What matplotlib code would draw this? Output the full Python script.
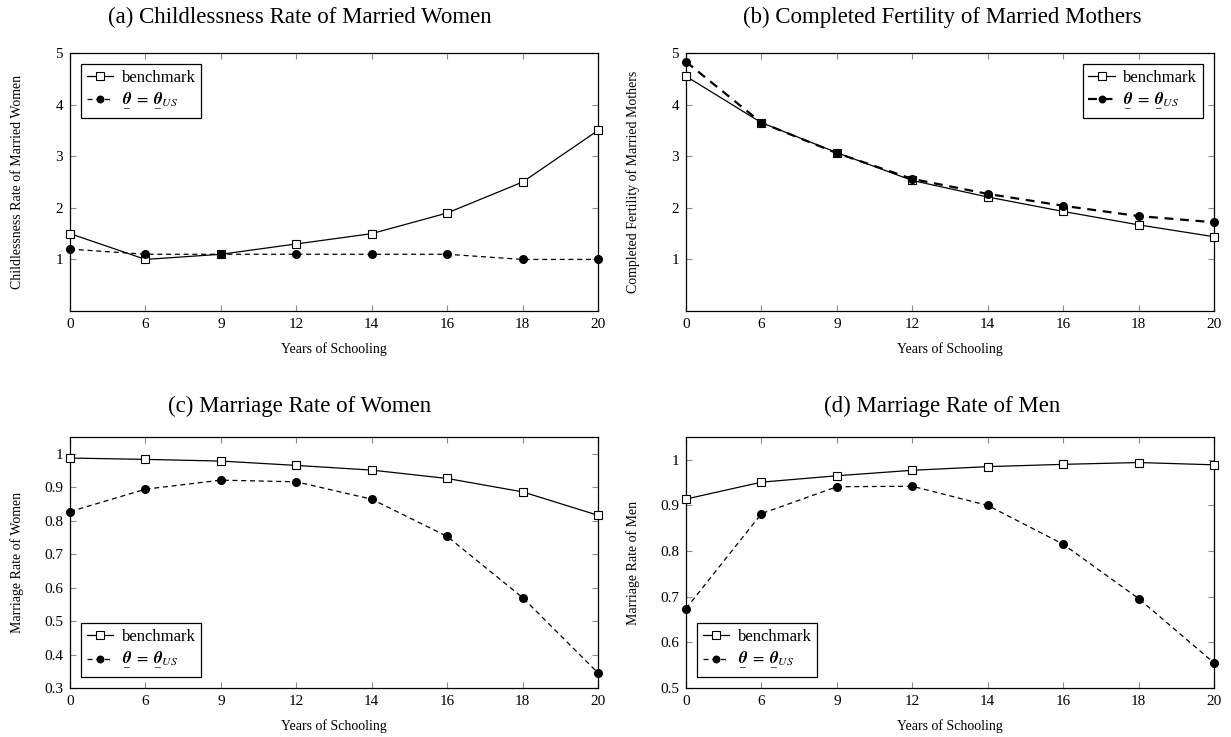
import matplotlib
matplotlib.use("Agg")
import matplotlib.pyplot as plt
from matplotlib.mathtext import MathTextParser

plt.rcParams['font.family'] = ['Liberation Serif', 'DejaVu Serif']
plt.rcParams['mathtext.fontset'] = 'stix'

# years of schooling (equally spaced categories)
years = ['0', '6', '9', '12', '14', '16', '18', '20']

# (a) childlessness rate of married women
child_bench = [1.5, 1.0, 1.1, 1.3, 1.5, 1.9, 2.5, 3.5]
child_us = [1.2, 1.1, 1.1, 1.1, 1.1, 1.1, 1.0, 1.0]

# (b) completed fertility of married mothers
fert_bench = [4.55, 3.65, 3.07, 2.53, 2.21, 1.93, 1.67, 1.44]
fert_us = [4.83, 3.65, 3.06, 2.56, 2.27, 2.04, 1.84, 1.72]

# (c) marriage rate of women
mw_bench = [0.987, 0.983, 0.978, 0.965, 0.951, 0.926, 0.886, 0.816]
mw_us = [0.827, 0.894, 0.921, 0.916, 0.864, 0.753, 0.570, 0.345]

# (d) marriage rate of men
mm_bench = [0.914, 0.951, 0.965, 0.977, 0.985, 0.990, 0.994, 0.989]
mm_us = [0.674, 0.882, 0.941, 0.942, 0.900, 0.815, 0.696, 0.555]

candidates = [
    r'$\underline{\mathbfit{\theta}}\;=\;\underline{\mathbfit{\theta}}_{US}$',
    r'$\underset{\_}{\mathbfit{\theta}}\;=\;\underset{\_}{\mathbfit{\theta}}_{US}$',
    r'$\mathbfit{\theta}\;=\;\mathbfit{\theta}_{US}$',
]
us_label = candidates[-1]
for c in candidates:
    try:
        MathTextParser('agg').parse(c, dpi=100)
        us_label = c
        break
    except Exception:
        pass

fig = plt.figure(figsize=(12.31, 7.37), dpi=100)

panels = [
    ([0.0569, 0.578, 0.4289, 0.350], '(a) Childlessness Rate of Married Women',
     'Childlessness Rate of Married Women', child_bench, child_us,
     (0, 5), [1, 2, 3, 4, 5], 'upper left', 0.9, (300, 17)),
    ([0.5573, 0.578, 0.4289, 0.350], '(b) Completed Fertility of Married Mothers',
     'Completed Fertility of Married Mothers', fert_bench, fert_us,
     (0, 5), [1, 2, 3, 4, 5], 'upper right', 1.6, (942, 17)),
    ([0.0569, 0.0665, 0.4289, 0.3406], '(c) Marriage Rate of Women',
     'Marriage Rate of Women', mw_bench, mw_us,
     (0.3, 1.05), [0.3, 0.4, 0.5, 0.6, 0.7, 0.8, 0.9, 1], 'lower left', 0.9, (300, 406)),
    ([0.5573, 0.0665, 0.4289, 0.3406], '(d) Marriage Rate of Men',
     'Marriage Rate of Men', mm_bench, mm_us,
     (0.5, 1.05), [0.5, 0.6, 0.7, 0.8, 0.9, 1], 'lower left', 0.9, (942, 406)),
]

x = list(range(len(years)))
for pos, title, ylab, bench, us, ylim, yt, loc, us_lw, tpos in panels:
    ax = fig.add_axes(pos)
    ax.plot(x, bench, color='black', lw=0.9, marker='s', ms=6,
            mfc='white', mec='black', mew=0.8, label='benchmark', clip_on=False, zorder=3)
    ax.plot(x, us, color='black', lw=us_lw, ls=(0, (4, 3)), marker='o', ms=5.5,
            mfc='black', mec='black', label=us_label, clip_on=False, zorder=3)
    ax.set_xlim(0, len(years) - 1)
    ax.set_ylim(*ylim)
    ax.set_xticks(x)
    ax.set_xticklabels(years)
    ax.set_yticks(yt)
    ax.set_yticklabels([f'{v:g}' for v in yt])
    ax.tick_params(direction='in', top=True, right=True, color='0.55',
                   length=4, width=0.8, labelsize=11, pad=5)
    for s in ax.spines.values():
        s.set_linewidth(0.9)
    ax.set_xlabel('Years of Schooling', fontsize=10, labelpad=8)
    ax.set_ylabel(ylab, fontsize=10)
    ax.yaxis.set_label_coords(-0.088, 0.5)
    fig.text(tpos[0] / 1231, 1 - tpos[1] / 737, title, fontsize=16.5,
             ha='center', va='center')
    leg = ax.legend(loc=loc, fontsize=12, frameon=True, fancybox=False,
                    edgecolor='black', framealpha=1, handlelength=1.6,
                    numpoints=1, borderaxespad=0.65, handletextpad=0.5,
                    borderpad=0.35, labelspacing=0.3, markerscale=0.85)
    leg.get_frame().set_linewidth(0.9)

fig.savefig('out.png', dpi=100)
